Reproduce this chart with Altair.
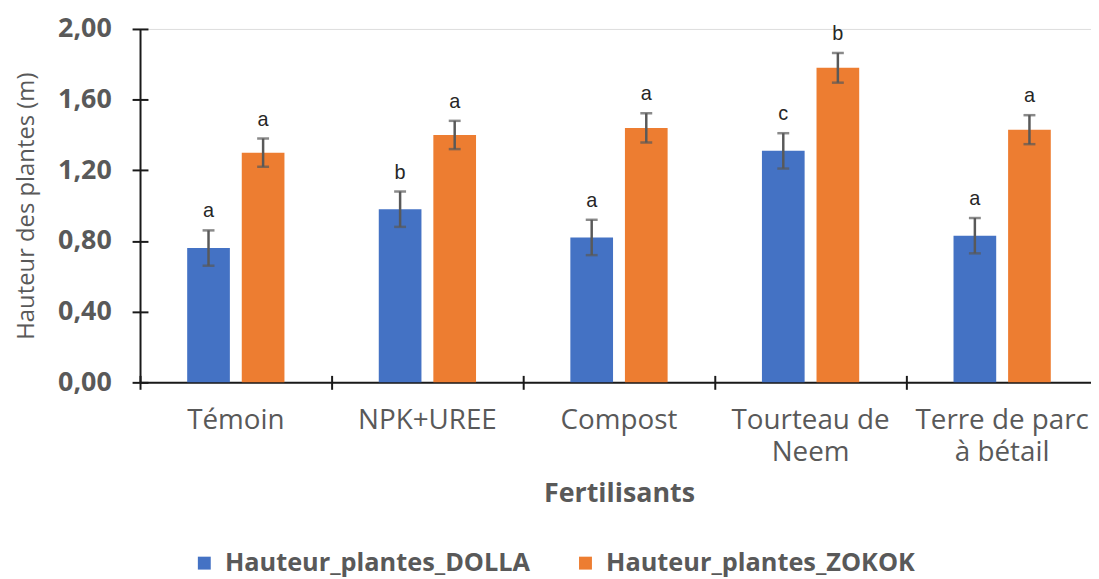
import altair as alt
import pandas as pd

categories = ["Témoin", "NPK+UREE", "Compost", "Tourteau de Neem", "Terre de parc à bétail"]
series = ["Hauteur_plantes_DOLLA", "Hauteur_plantes_ZOKOK"]
dolla = [0.76, 0.98, 0.82, 1.31, 0.83]
zokok = [1.30, 1.40, 1.44, 1.78, 1.43]
dolla_err = [0.10, 0.10, 0.10, 0.10, 0.10]
zokok_err = [0.08, 0.08, 0.083, 0.084, 0.082]
dolla_letters = ["a", "b", "a", "c", "a"]
zokok_letters = ["a", "a", "a", "b", "a"]
y_ticks = [0.0, 0.4, 0.8, 1.2, 1.6, 2.0]

rows = []
for i, c in enumerate(categories):
    rows.append({"cat": c, "serie": series[0], "mean": dolla[i], "err": dolla_err[i], "letter": dolla_letters[i]})
    rows.append({"cat": c, "serie": series[1], "mean": zokok[i], "err": zokok_err[i], "letter": zokok_letters[i]})
df = pd.DataFrame(rows)
df["lo"] = df["mean"] - df["err"]
df["hi"] = df["mean"] + df["err"]

GRAY = "#595959"
AXC = "#1a1a1a"
FONT = "Open Sans"

label_expr = ("datum.label == 'Tourteau de Neem' ? ['Tourteau de', 'Neem'] : "
              "datum.label == 'Terre de parc à bétail' ? ['Terre de parc', 'à bétail'] : datum.label")

xscale = alt.Scale(domain=categories, range=[0, 965], paddingInner=0, paddingOuter=0)
yscale = alt.Scale(domain=[0, 2])
xoff = alt.XOffset("serie:N", sort=series,
                   scale=alt.Scale(domain=series, paddingInner=0.218, paddingOuter=0.864))

main_x_axis = alt.Axis(
    orient="bottom",
    title="Fertilisants", titleFont=FONT, titleFontSize=27, titleFontWeight="bold",
    titleColor=GRAY, titleY=112, titleBaseline="middle",
    labelFont=FONT, labelFontSize=28, labelColor=GRAY, labelExpr=label_expr,
    labelLineHeight=33, labelPadding=24, labelAngle=0,
    ticks=False, domain=True, domainColor=AXC, domainWidth=2, grid=False,
)
main_y_axis = alt.Axis(
    orient="left",
    title="Hauteur des plantes (m)", titleFont=FONT, titleFontSize=24, titleFontWeight="normal",
    titleColor=GRAY, titleX=-114, titleBaseline="middle",
    labelFont=FONT, labelFontSize=27, labelFontWeight="bold", labelColor=GRAY,
    labelExpr="replace(format(datum.value, '.2f'), '.', ',')", labelPadding=29,
    values=y_ticks, ticks=False, domain=True, domainColor=AXC, domainWidth=2, grid=False,
)
tick_x_axis = alt.Axis(orient="bottom", title=None, labels=False, domain=False, grid=False, ticks=True,
                       tickBand="extent", offset=-7, tickSize=14, tickColor=AXC, tickWidth=2)
tick_y_axis = alt.Axis(orient="left", title=None, labels=False, domain=False, grid=False, ticks=True,
                       values=y_ticks, offset=-8, tickSize=16, tickColor=AXC, tickWidth=2)

base = alt.Chart(df)

bars = base.mark_bar().encode(
    x=alt.X("cat:N", sort=categories, scale=xscale, axis=main_x_axis),
    xOffset=xoff,
    y=alt.Y("mean:Q", scale=yscale, axis=main_y_axis),
    color=alt.Color("serie:N", sort=series,
                    scale=alt.Scale(domain=series, range=["#4472C4", "#ED7D31"]),
                    legend=alt.Legend(title=None, orient="none", direction="horizontal",
                                      legendX=52, legendY=525, symbolType="square",
                                      symbolSize=169, symbolStrokeWidth=0, labelLimit=0,
                                      labelFont=FONT, labelFontSize=25.5, labelFontWeight="bold",
                                      labelColor=GRAY, labelOffset=8, columnPadding=42)),
)

ticklayer = base.mark_bar(opacity=0).encode(
    x=alt.X("cat:N", sort=categories, scale=xscale, axis=tick_x_axis),
    xOffset=xoff,
    y=alt.Y("mean:Q", scale=yscale, axis=tick_y_axis),
)

rules = base.mark_rule(color=GRAY, strokeWidth=2.5).encode(
    x=alt.X("cat:N", sort=categories, scale=xscale, axis=None),
    xOffset=xoff,
    y=alt.Y("lo:Q", scale=yscale, axis=None),
    y2="hi:Q",
)
cap_hi = base.mark_tick(color=GRAY, size=12, thickness=2.5).encode(
    x=alt.X("cat:N", sort=categories, scale=xscale, axis=None),
    xOffset=xoff,
    y=alt.Y("hi:Q", scale=yscale, axis=None),
)
cap_lo = base.mark_tick(color=GRAY, size=12, thickness=2.5).encode(
    x=alt.X("cat:N", sort=categories, scale=xscale, axis=None),
    xOffset=xoff,
    y=alt.Y("lo:Q", scale=yscale, axis=None),
)
letters = base.mark_text(font="Liberation Sans", fontSize=20, color="#262626",
                         baseline="alphabetic", dy=-13).encode(
    x=alt.X("cat:N", sort=categories, scale=xscale, axis=None),
    xOffset=xoff,
    y=alt.Y("hi:Q", scale=yscale, axis=None),
    text="letter:N",
)

chart = alt.layer(bars, ticklayer, rules, cap_hi, cap_lo, letters).resolve_axis(
    x="independent", y="independent"
).properties(
    width=958, height=356,
    padding={"left": 133, "top": 19, "right": 0, "bottom": 196},
    autosize=alt.AutoSizeParams(type="none"),
).configure_view(stroke=None).configure(background="white")

chart.save("out.html", embed_options={"renderer": "svg", "actions": False})
